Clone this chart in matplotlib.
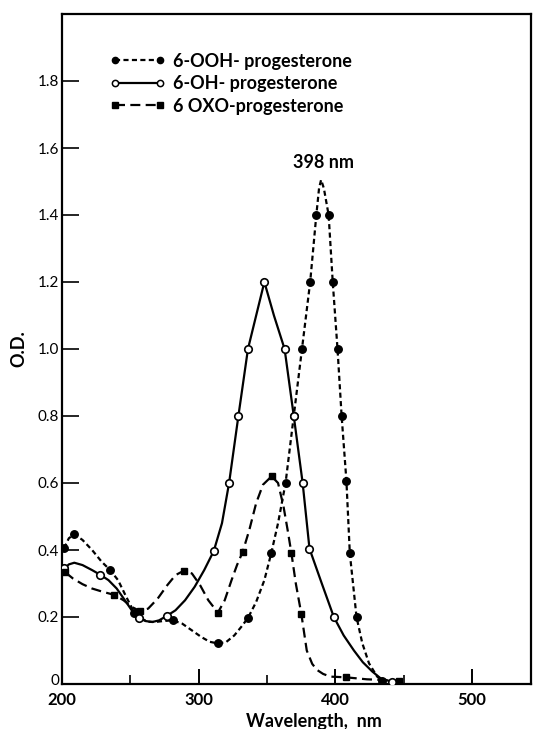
import matplotlib
matplotlib.use("Agg")
import matplotlib.pyplot as plt
from matplotlib.ticker import FixedLocator

plt.rcParams['font.family'] = ['Lato', 'DejaVu Sans']

# ---- data ----
# 6-OOH-progesterone: curve (line vertices) and measured points (markers)
ooh_curve_x = [201.5, 205, 209, 215, 222, 229, 235, 241, 247, 253, 258, 263, 268, 274, 281,
               288, 295, 302, 308, 314, 320, 326, 331, 336, 342, 348, 353, 358, 363.5, 369.5,
               375.5, 381.5, 386, 388, 389.5, 391.5, 395, 398, 401.5, 404.5, 408, 410.5,
               415.4, 419.6, 424.5, 430.5, 434.3]
ooh_curve_y = [0.405, 0.435, 0.447, 0.43, 0.40, 0.365, 0.341, 0.31, 0.26, 0.212, 0.195, 0.186,
               0.185, 0.188, 0.19, 0.18, 0.16, 0.14, 0.126, 0.121, 0.125, 0.145, 0.17, 0.197,
               0.245, 0.31, 0.39, 0.48, 0.60, 0.80, 1.00, 1.20, 1.40, 1.48, 1.505, 1.48, 1.40,
               1.20, 1.00, 0.80, 0.607, 0.39, 0.20, 0.122, 0.062, 0.022, 0.01]
ooh_pts_x = [201.5, 209, 235, 253, 281, 314, 336, 353, 363.5, 369.5, 375.5, 381.5, 386, 395,
             398, 401.5, 404.5, 408, 410.5, 415.4, 434.3]
ooh_pts_y = [0.405, 0.447, 0.341, 0.212, 0.19, 0.121, 0.197, 0.39, 0.60, 0.80, 1.00, 1.20,
             1.40, 1.40, 1.20, 1.00, 0.80, 0.607, 0.39, 0.20, 0.01]

# 6-OH-progesterone
oh_curve_x = [201.8, 205, 209, 215, 222, 228, 234, 240, 246, 251, 256.6, 261, 266, 271, 276.5,
              283, 290, 297, 304, 311, 317, 322.2, 329, 336, 342, 348, 355, 362.8, 369.5, 376,
              381, 390, 398.8, 406, 413.5, 420, 427, 433, 441]
oh_curve_y = [0.345, 0.357, 0.362, 0.355, 0.34, 0.326, 0.31, 0.285, 0.25, 0.22, 0.197, 0.188,
              0.185, 0.19, 0.203, 0.22, 0.25, 0.29, 0.34, 0.397, 0.48, 0.60, 0.80, 1.00, 1.10,
              1.20, 1.10, 1.00, 0.80, 0.60, 0.404, 0.30, 0.20, 0.145, 0.10, 0.065, 0.037,
              0.017, 0.007]
oh_pts_x = [201.8, 228, 256.6, 276.5, 311, 322.2, 329, 336, 348, 362.8, 369.5, 376, 381,
            398.8, 441]
oh_pts_y = [0.345, 0.326, 0.197, 0.203, 0.397, 0.60, 0.80, 1.00, 1.20, 1.00, 0.80, 0.60,
            0.404, 0.20, 0.007]

# 6 OXO-progesterone
oxo_curve_x = [202.5, 208, 215, 222, 230, 238.3, 245, 251, 257, 263, 270, 277, 283, 289, 295,
               301, 307, 314, 319, 324, 328, 332.2, 337, 342, 347, 353.3, 358, 362, 365, 367.8,
               371, 375, 379, 383, 386.5, 391, 396.3, 407.4, 423, 446.5]
oxo_curve_y = [0.333, 0.315, 0.298, 0.285, 0.275, 0.266, 0.25, 0.23, 0.218, 0.225, 0.255,
               0.295, 0.325, 0.338, 0.33, 0.295, 0.25, 0.213, 0.25, 0.31, 0.355, 0.395, 0.46,
               0.54, 0.595, 0.62, 0.60, 0.53, 0.46, 0.39, 0.30, 0.21, 0.10, 0.06, 0.042, 0.03,
               0.022, 0.02, 0.014, 0.01]
oxo_pts_x = [202.5, 238.3, 257, 289, 314, 332.2, 353.3, 367.8, 375, 407.4, 446.5]
oxo_pts_y = [0.333, 0.266, 0.218, 0.338, 0.213, 0.395, 0.62, 0.39, 0.21, 0.02, 0.01]

series_labels = ["6-OOH- progesterone", "6-OH- progesterone", "6 OXO-progesterone"]
x_ticks = [200, 300, 400, 500]
x_minor = [250, 350, 450]
y_ticks = [0, 0.2, 0.4, 0.6, 0.8, 1.0, 1.2, 1.4, 1.6, 1.8]
y_ticklabels = ["0", "0.2", "0.4", "0.6", "0.8", "1.0", "1.2", "1.4", "1.6", "1.8"]
peak_label = "398 nm"
peak_label_pos = (391, 1.53)

# ---- figure ----
fig = plt.figure(figsize=(5.34, 7.29), dpi=100)
ax = fig.add_axes([62 / 534, 1 - 684 / 729, (531 - 62) / 534, (684 - 14) / 729])

lw = 1.6
short_dash = (0, (2.3, 1.5))
long_dash = (0, (4.5, 2.4))

ax.plot(ooh_curve_x, ooh_curve_y, color='black', lw=lw, linestyle=short_dash)
ax.plot(oh_curve_x, oh_curve_y, color='black', lw=lw, linestyle='-')
ax.plot(oxo_curve_x, oxo_curve_y, color='black', lw=lw, linestyle=long_dash)

ax.plot(ooh_pts_x, ooh_pts_y, 'o', color='black', ms=5.4, zorder=3)
ax.plot(oh_pts_x, oh_pts_y, 'o', mfc='white', mec='black', mew=1.2, ms=5.4, zorder=3)
ax.plot(oxo_pts_x, oxo_pts_y, 's', color='black', ms=5.0, zorder=3)

# legend handles
h1, = ax.plot([], [], color='black', lw=lw, linestyle=short_dash, marker='o', ms=4.5)
h2, = ax.plot([], [], color='black', lw=lw, linestyle='-', marker='o', mfc='white',
              mec='black', mew=1.1, ms=4.5)
h3, = ax.plot([], [], color='black', lw=lw, linestyle=long_dash, marker='s', ms=4.5)
leg = ax.legend([h1, h2, h3], series_labels, loc='upper left', frameon=False,
                numpoints=2, handlelength=3.1, handletextpad=0.45, labelspacing=0.3,
                bbox_to_anchor=(0.085, 0.953), borderaxespad=0,
                prop={'family': ['Lato', 'DejaVu Sans'], 'weight': 'bold', 'size': 13})

ax.text(peak_label_pos[0], peak_label_pos[1], peak_label, ha='center', va='bottom',
        fontsize=13, fontweight='bold')

ax.set_xlim(200, 543)
ax.set_ylim(0, 2.0)
ax.xaxis.set_major_locator(FixedLocator(x_ticks))
ax.xaxis.set_minor_locator(FixedLocator(x_minor))
ax.yaxis.set_major_locator(FixedLocator(y_ticks))
ax.set_yticklabels(y_ticklabels)
ax.set_xticklabels([str(v) for v in x_ticks])

ax.tick_params(axis='x', which='major', direction='in', length=11, width=1.4,
               labelsize=12, pad=5.5)
ax.tick_params(axis='x', which='minor', direction='in', length=6.5, width=1.2)
ax.tick_params(axis='y', which='major', direction='in', length=12, width=1.2,
               labelsize=11, pad=2)
for lab in ax.get_xticklabels():
    lab.set_fontweight('bold')
# lift the "0" label a little so it clears the "200" below it
import matplotlib.transforms as mtransforms
zero_lab = ax.get_yticklabels()[0]
zero_lab.set_transform(zero_lab.get_transform() +
                       mtransforms.ScaledTranslation(0, 3 / 72, fig.dpi_scale_trans))

for s in ax.spines.values():
    s.set_linewidth(1.6)

ax.set_xlabel("Wavelength,  nm", fontsize=13, fontweight='bold')
ax.xaxis.set_label_coords(0.537, -0.044)
ax.set_ylabel("O.D.", fontsize=13, fontweight='bold')
ax.yaxis.set_label_coords(-0.074, 0.5)

fig.savefig("out.png", dpi=100)
